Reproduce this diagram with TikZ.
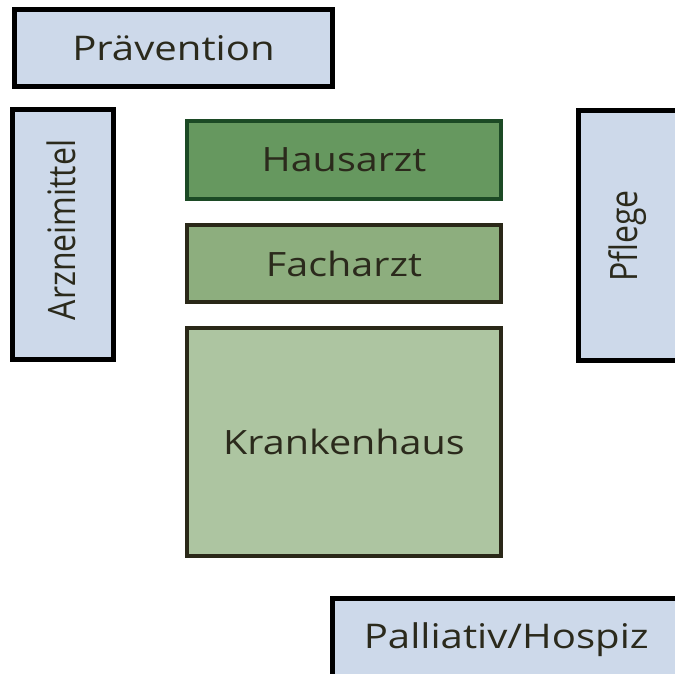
\documentclass[tikz,border=0pt]{standalone}
\usepackage{fontspec}
\setmainfont{Open Sans}
\definecolor{sideblue}{HTML}{CDD9EA}
\definecolor{darkgreen}{HTML}{66985F}
\definecolor{midgreen}{HTML}{8DAE7E}
\definecolor{lightgreen}{HTML}{ADC5A1}
\definecolor{edgegreen}{HTML}{1C4A25}
\definecolor{edgebrown}{HTML}{2A2818}
\definecolor{textcol}{HTML}{2B2A1C}
% text is wider than high in this picture
\newcommand{\widetext}[1]{\scalebox{1.18}[1]{#1}}
\newcommand{\uptext}[1]{\scalebox{1}[1.18]{#1}}
\begin{document}
\begin{tikzpicture}[x=1pt, y=-1pt,
		sidebox/.style = {draw = black, line width = 5pt, fill = sideblue, inner sep = 0pt, text = textcol, font = \fontsize{34}{38}\selectfont},
		sidelabel/.style = {rotate = 90, inner sep = 0pt, text = textcol, font = \fontsize{32}{36}\selectfont},
		carebox/.style = {line width = 4pt, inner sep = 0pt, text = textcol, font = \fontsize{33.5}{37}\selectfont, minimum width = 314pt}]
	\useasboundingbox (0,0) rectangle (675,674);
	\clip (0,0) rectangle (675,674);
	
	\node[sidebox, minimum width = 318pt, minimum height = 77pt] (praev) at (173.5,48) {\widetext{Prävention}};
	\node[sidebox, minimum width = 101pt, minimum height = 250pt] (arznei) at (63,234.5) {};
	\node[sidelabel] (arzneitext) at (61,230) {\uptext{Arzneimittel}};
	\node[sidebox, minimum width = 101.5pt, minimum height = 250pt] (pflege) at (629.25,235.5) {};
	\node[sidelabel] (pflegetext) at (627.5,236) {\uptext{Pflege}};
	\node[sidebox, minimum width = 347.5pt, minimum height = 81.5pt] (pall) at (506.25,639.25) {\widetext{Palliativ/Hospiz}};
	
	\node[carebox, draw = edgegreen, fill = darkgreen, minimum height = 78pt] (haus) at (344,160) {\widetext{Hausarzt}};
	\node[carebox, draw = edgebrown, fill = midgreen, minimum height = 77pt] (fach) at (344,263.5) {\widetext{Facharzt}};
	\node[carebox, draw = edgebrown, fill = lightgreen, minimum height = 228pt] (kranken) at (344,442) {\widetext{Krankenhaus}};
\end{tikzpicture}
\end{document}
